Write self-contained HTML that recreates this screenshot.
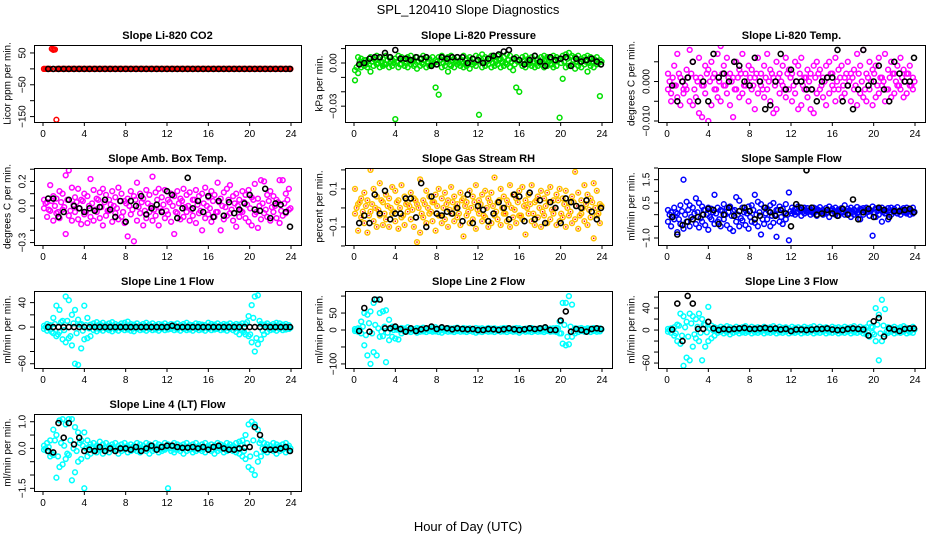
<!DOCTYPE html>
<html><head><meta charset="utf-8">
<style>
html,body{margin:0;padding:0;background:#fff;}
svg{display:block;font-family:"Liberation Sans",Arial,sans-serif;}
</style></head>
<body>
<svg id="chart" width="936" height="540" viewBox="0 0 936 540" xmlns="http://www.w3.org/2000/svg">
<rect x="0" y="0" width="936" height="540" fill="#fff"/>
<text x="468" y="14" text-anchor="middle" font-size="13">SPL_120410  Slope Diagnostics</text>
<text x="468" y="531" text-anchor="middle" font-size="13">Hour of Day (UTC)</text>
</svg>
<script>
const cloudHours=[0.1,0.4,0.7,1.0,1.3,1.6,1.9,2.2,2.5,2.8,3.1,3.4,3.7,4.0,4.3,4.6,4.9,5.2,5.5,5.8,6.1,6.4,6.7,7.0,7.3,7.6,7.9,8.2,8.5,8.8,9.1,9.4,9.7,10.0,10.3,10.6,10.9,11.2,11.5,11.8,12.1,12.4,12.7,13.0,13.3,13.6,13.9,14.2,14.5,14.8,15.1,15.4,15.7,16.0,16.3,16.6,16.9,17.2,17.5,17.8,18.1,18.4,18.7,19.0,19.3,19.6,19.9,20.2,20.5,20.8,21.1,21.4,21.7,22.0,22.3,22.6,22.9,23.2,23.5,23.8];
const cloudHoursC=[0.25,0.55,0.85,1.15,1.45,1.75,2.05,2.35,2.65,2.95,3.25,3.55,3.85,4.15,4.45,4.75,5.05,5.35,5.65,5.95,6.25,6.55,6.85,7.15,7.45,7.75,8.05,8.35,8.65,8.95,9.25,9.55,9.85,10.15,10.45,10.75,11.05,11.35,11.65,11.95,12.25,12.55,12.85,13.15,13.45,13.75,14.05,14.35,14.65,14.95,15.25,15.55,15.85,16.15,16.45,16.75,17.05,17.35,17.65,17.95,18.25,18.55,18.85,19.15,19.45,19.75,20.05,20.35,20.65,20.95,21.25,21.55,21.85,22.15,22.45,22.75,23.05,23.35,23.65,23.95];
const meanHours=[0.5,1.0,1.5,2.0,2.5,3.0,3.5,4.0,4.5,5.0,5.5,6.0,6.5,7.0,7.5,8.0,8.5,9.0,9.5,10.0,10.5,11.0,11.5,12.0,12.5,13.0,13.5,14.0,14.5,15.0,15.5,16.0,16.5,17.0,17.5,18.0,18.5,19.0,19.5,20.0,20.5,21.0,21.5,22.0,22.5,23.0,23.5,23.9];
const xTicks=[0,4,8,12,16,20,24];

const co2A=[0,0,0,62,0,0,0,0,0,0, 0,0,0,0,0,0,0,0,0,0, 0,0,0,0,0,0,0,0,0,0, 0,0,0,0,0,0,0,0,0,0, 0,0,0,0,0,0,0,0,0,0, 0,0,0,0,0,0,0,0,0,0, 0,0,0,0,0,0,0,0,0,0, 0,0,0,0,0,0,0,0,0,0];
const co2B=[0,0,0,60,-160,0,0,0,0,0, 0,0,0,0,0,0,0,0,0,0, 0,0,0,0,0,0,0,0,0,0, 0,0,0,0,0,0,0,0,0,0, 0,0,0,0,0,0,0,0,0,0, 0,0,0,0,0,0,0,0,0,0, 0,0,0,0,0,0,0,0,0,0, 0,0,0,0,0,0,0,0,0,0];
const co2C=[0,0,63,61,0,0,0,0,0,0, 0,0,0,0,0,0,0,0,0,0, 0,0,0,0,0,0,0,0,0,0, 0,0,0,0,0,0,0,0,0,0, 0,0,0,0,0,0,0,0,0,0, 0,0,0,0,0,0,0,0,0,0, 0,0,0,0,0,0,0,0,0,0, 0,0,0,0,0,0,0,0,0,0];
const co2Mean=[0,0,0,0,0,0,0,0,0,0,0,0,0,0,0,0,0,0,0,0,0,0,0,0,0,0,0,0,0,0,0,0,0,0,0,0,0,0,0,0,0,0,0,0,0,0,0,0];

const presA=[-0.005,0.004,0.003,0.002,0.001,0.004,0.003,0.005,0.004,0.003,0.005,0.004,0.002,0.003,0.005,0.004,0.003,0.004,0.005,0.002,0.004,0.003,0.005,0.004,0.003,0.004,0.002,0.004,0.005,0.003,0.004,0.005,0.003,0.004,0.002,0.005,0.003,0.004,0.003,0.005,0.004,0.006,0.004,0.003,0.005,0.004,0.005,0.003,0.004,0.006,0.005,0.003,0.004,0.002,0.004,0.005,0.003,0.004,0.005,0.003,0.004,0.005,0.004,0.003,0.005,0.004,0.003,0.005,0.006,0.007,0.005,0.004,0.005,0.003,0.004,0.005,0.004,0.003,0.004,0.002];
const presB=[-0.012,-0.007,-0.003,-0.002,-0.003,-0.006,-0.002,-0.001,-0.003,-0.002,-0.001,-0.003,-0.002,-0.039,-0.003,-0.001,-0.002,-0.003,-0.001,-0.002,-0.004,-0.002,-0.001,-0.003,-0.002,-0.001,-0.017,-0.022,-0.003,-0.002,-0.006,-0.002,-0.003,-0.001,-0.002,-0.003,-0.002,-0.004,-0.001,-0.002,-0.036,-0.003,-0.002,-0.001,-0.003,-0.002,-0.001,-0.003,-0.002,-0.001,-0.003,-0.005,-0.017,-0.020,-0.002,-0.003,-0.001,-0.002,-0.003,-0.002,-0.001,-0.003,-0.002,-0.001,-0.003,-0.002,-0.038,-0.011,-0.003,-0.002,-0.001,-0.004,-0.002,-0.003,-0.001,-0.006,-0.002,-0.003,-0.001,-0.023];
const presC=[-0.003,0.001,0.000,0.002,-0.001,0.001,0.002,0.000,0.001,-0.001,0.002,0.001,0.000,0.001,-0.001,0.002,0.000,0.001,0.002,-0.001,0.001,0.000,0.002,0.001,-0.001,0.000,0.001,0.002,0.000,0.001,-0.001,0.002,0.001,0.000,0.001,0.002,-0.001,0.001,0.000,0.002,0.001,0.003,0.001,0.002,0.000,0.001,0.002,0.001,0.000,0.002,0.001,-0.001,0.001,0.000,0.002,0.001,0.000,0.001,0.002,0.000,0.001,0.002,0.001,-0.001,0.001,0.002,0.000,0.001,0.003,0.004,0.002,0.001,0.000,0.002,0.001,0.000,0.001,0.002,0.000,0.001];
const presMean=[-0.001,0.000,0.003,0.004,0.004,0.007,0.004,0.009,0.003,0.003,0.002,0.004,0.003,0.004,-0.002,-0.001,0.004,0.003,0.004,0.004,0.004,0.000,0.003,0.002,0.000,0.003,0.005,0.006,0.008,0.009,0.003,0.002,-0.001,0.002,0.005,0.001,-0.002,0.004,0.002,0.003,0.004,-0.002,0.003,0.001,0.002,0.003,0.001,-0.001];

const tempA=[0.002,-0.003,0.004,0.007,0.001,-0.002,0.003,0.008,0.005,0.001,0.006,-0.001,0.004,0.003,0.005,0.002,0.007,0.009,0.004,0.006,0.002,0.001,0.005,0.003,0.007,0.002,0.004,0.003,0.001,0.006,0.002,0.004,0.007,0.003,0.001,0.005,0.002,0.004,0.006,0.003,0.002,0.005,0.004,0.006,0.001,0.003,0.002,0.004,0.005,0.003,0.001,0.004,0.005,0.002,0.006,0.003,0.004,0.001,0.005,0.002,0.003,0.007,0.004,0.008,0.002,0.005,0.003,0.004,0.006,0.001,0.007,0.003,0.005,0.002,0.004,0.006,0.003,0.002,0.004,0.001];
const tempB=[-0.002,-0.005,-0.001,-0.004,-0.006,-0.003,-0.002,-0.005,-0.006,-0.004,-0.008,-0.009,-0.003,-0.010,-0.006,-0.002,-0.004,-0.005,-0.001,-0.003,-0.006,-0.009,-0.002,-0.004,-0.003,-0.001,-0.005,-0.002,-0.007,-0.003,-0.001,-0.004,-0.002,-0.005,-0.008,-0.007,-0.003,-0.001,-0.004,-0.002,-0.005,-0.003,-0.007,-0.006,-0.002,-0.004,-0.007,-0.008,-0.003,-0.002,-0.004,-0.006,-0.003,-0.001,-0.005,-0.002,-0.004,-0.003,-0.001,-0.005,-0.002,-0.006,-0.003,-0.004,-0.005,-0.002,-0.006,-0.004,-0.003,-0.001,-0.005,-0.002,-0.004,-0.003,-0.001,-0.002,-0.004,-0.003,-0.001,-0.002];
const tempC=[0.000,0.001,-0.001,0.002,0.000,-0.001,0.001,0.002,-0.002,0.000,0.001,-0.001,0.002,0.000,0.001,-0.002,0.000,0.002,-0.001,0.001,0.000,-0.002,0.001,0.002,-0.001,0.000,0.001,-0.001,0.002,0.000,-0.002,0.001,0.000,0.002,-0.001,0.001,0.000,-0.002,0.002,0.001,-0.001,0.000,0.002,-0.001,0.001,0.000,-0.002,0.001,0.002,-0.001,0.000,0.001,0.002,-0.002,0.000,0.001,-0.001,0.002,0.000,0.001,-0.001,0.002,0.000,-0.002,0.001,0.000,0.002,-0.001,0.001,0.000,-0.002,0.001,0.002,0.000,-0.001,0.001,0.000,0.002,-0.001,0.000];
const tempMean=[-0.001,-0.005,0.000,0.001,0.005,-0.005,0.000,-0.005,0.007,0.001,0.002,0.000,0.005,0.004,0.000,-0.001,0.006,0.000,-0.007,-0.006,0.000,0.007,-0.002,0.003,0.000,0.000,-0.002,-0.002,-0.005,0.000,0.001,0.001,0.008,-0.005,-0.001,-0.007,-0.002,0.008,-0.001,0.000,0.004,-0.002,-0.005,0.005,0.002,0.000,0.000,0.006];

const ambA=[0.05,0.03,0.17,0.08,0.06,0.12,0.1,0.25,0.29,0.15,0.07,0.14,0.05,0.1,0.08,0.22,0.13,0.06,0.11,0.14,0.09,0.05,0.12,0.07,0.15,0.1,0.04,0.06,0.12,0.08,0.19,0.1,0.06,0.13,0.09,0.24,0.11,0.14,0.07,0.13,0.05,0.1,0.08,0.12,0.06,0.14,0.09,0.11,0.05,0.13,0.08,0.1,0.15,0.07,0.12,0.09,0.19,0.06,0.11,0.14,0.17,0.08,0.1,0.05,0.12,0.09,0.13,0.07,0.18,0.06,0.21,0.2,0.09,0.12,0.08,0.05,0.21,0.21,0.1,0.14];
const ambB=[-0.02,-0.09,-0.04,-0.12,-0.06,-0.1,-0.03,-0.23,-0.08,-0.12,-0.05,-0.11,-0.15,-0.07,-0.14,-0.09,-0.12,-0.05,-0.1,-0.16,-0.08,-0.04,-0.13,-0.06,-0.11,-0.09,-0.14,-0.25,-0.07,-0.29,-0.12,-0.06,-0.16,-0.1,-0.05,-0.12,-0.08,-0.16,-0.04,-0.1,-0.07,-0.13,-0.23,-0.06,-0.11,-0.09,-0.05,-0.12,-0.08,-0.14,-0.06,-0.2,-0.1,-0.07,-0.13,-0.09,-0.05,-0.2,-0.11,-0.08,-0.06,-0.12,-0.17,-0.09,-0.05,-0.1,-0.13,-0.16,-0.07,-0.18,-0.11,-0.06,-0.09,-0.12,-0.05,-0.1,-0.14,-0.08,-0.06,-0.03];
const ambC=[0.02,-0.03,0.04,0.0,-0.05,0.03,-0.01,0.05,-0.04,0.01,0.03,-0.02,0.04,-0.05,0.0,0.02,-0.03,0.05,-0.01,0.03,-0.04,0.01,0.0,-0.02,0.04,-0.05,0.02,0.0,-0.03,0.05,-0.01,0.03,-0.04,0.02,0.0,-0.03,0.05,-0.02,0.01,-0.04,0.03,0.0,-0.05,0.02,0.04,-0.01,0.0,-0.03,0.05,0.01,-0.04,0.02,0.0,-0.02,0.04,-0.05,0.03,0.0,-0.01,0.05,-0.03,0.02,0.0,-0.04,0.03,0.01,-0.02,0.05,-0.05,0.0,0.02,-0.03,0.04,-0.01,0.0,0.03,-0.04,0.02,0.05,-0.02];
const ambMean=[0.06,0.06,-0.09,-0.05,0.05,0.0,-0.02,-0.05,-0.02,-0.04,-0.01,0.05,-0.03,-0.09,0.04,-0.13,0.04,0.0,0.08,-0.07,-0.02,0.01,-0.05,0.12,0.09,-0.1,-0.02,0.23,-0.02,0.04,-0.05,0.08,-0.09,0.04,-0.08,0.03,-0.06,-0.03,0.02,0.09,-0.03,-0.04,0.14,-0.1,0.02,0.01,-0.05,-0.17];

const rhA=[0.1,0.02,0.05,0.08,0.04,0.2,0.1,0.06,0.13,0.03,0.07,0.05,0.11,0.09,0.04,0.12,0.06,0.03,0.08,0.05,0.02,0.15,0.04,0.09,0.06,0.03,0.07,0.1,0.05,0.08,0.04,0.11,0.06,0.02,0.08,0.05,0.03,0.09,0.06,0.12,0.04,0.07,0.09,0.05,0.08,0.16,0.03,0.1,0.06,0.04,0.12,0.07,0.05,0.09,0.11,0.04,0.07,0.12,0.03,0.06,0.09,0.05,0.08,0.11,0.04,0.07,0.1,0.05,0.09,0.03,0.06,0.19,0.08,0.04,0.12,0.07,0.05,0.13,0.09,0.02];
const rhB=[-0.03,-0.12,-0.05,-0.08,-0.13,-0.02,-0.07,-0.1,-0.04,-0.09,-0.06,-0.1,-0.03,-0.07,-0.11,-0.05,-0.09,-0.02,-0.06,-0.1,-0.18,-0.13,-0.05,-0.08,-0.03,-0.07,-0.12,-0.04,-0.08,-0.06,-0.1,-0.03,-0.07,-0.05,-0.09,-0.15,-0.04,-0.08,-0.06,-0.11,-0.03,-0.07,-0.05,-0.1,-0.08,-0.04,-0.06,-0.09,-0.03,-0.07,-0.1,-0.05,-0.08,-0.04,-0.06,-0.14,-0.03,-0.07,-0.09,-0.05,-0.1,-0.04,-0.08,-0.06,-0.03,-0.09,-0.07,-0.05,-0.1,-0.04,-0.08,-0.06,-0.11,-0.03,-0.07,-0.09,-0.05,-0.16,-0.04,-0.08];
const rhC=[0.0,0.03,-0.02,0.01,-0.04,0.02,0.0,-0.01,0.04,-0.03,0.01,0.0,-0.02,0.03,0.0,-0.04,0.02,0.01,-0.01,0.04,0.0,-0.03,0.02,0.0,-0.02,0.03,0.01,-0.04,0.0,0.02,-0.01,0.03,0.0,-0.03,0.04,0.01,-0.02,0.0,0.03,-0.01,0.02,-0.04,0.0,0.03,0.01,-0.02,0.04,0.0,-0.03,0.02,0.0,-0.01,0.03,-0.04,0.01,0.0,0.02,-0.03,0.04,0.0,-0.02,0.01,0.03,-0.01,0.0,0.04,-0.03,0.02,0.0,-0.02,0.03,0.01,-0.04,0.0,0.02,-0.01,0.03,0.0,-0.03,0.01];
const rhMean=[-0.08,-0.04,-0.08,0.07,-0.03,0.09,-0.06,-0.03,-0.03,0.05,0.05,-0.05,0.13,-0.1,0.06,-0.03,-0.04,-0.02,-0.03,0.0,-0.07,0.07,-0.08,0.01,-0.01,-0.07,-0.03,0.03,0.0,-0.06,0.07,0.06,-0.07,0.08,-0.06,0.04,-0.08,0.03,0.0,-0.08,0.05,0.03,0.01,0.0,0.04,-0.02,-0.06,0.0];

const flowA=[0.2,0.1,0.3,0.05,0.4,1.5,0.55,0.4,0.3,0.7,0.5,0.35,0.2,0.3,0.25,0.85,0.3,0.2,0.45,0.3,0.35,0.15,0.75,0.6,0.3,0.2,0.35,0.4,0.85,0.55,0.45,0.3,0.25,0.4,0.5,0.2,0.35,0.25,0.45,0.95,0.3,0.25,0.35,0.2,0.3,0.28,0.22,0.3,0.25,0.32,0.2,0.28,0.35,0.25,0.3,0.22,0.28,0.4,0.25,0.3,0.22,0.33,0.25,0.28,0.3,0.2,0.35,0.27,0.25,0.3,0.22,0.28,0.3,0.25,0.32,0.2,0.28,0.3,0.25,0.3];
const flowB=[-0.3,-0.5,-0.2,-0.75,-0.4,-0.6,-0.3,-0.5,-0.2,-0.4,-0.55,-0.3,-0.45,-0.65,-0.2,-0.4,-0.3,-0.5,-0.2,-0.45,-0.6,-0.7,-0.3,-0.5,-0.25,-0.45,-0.6,-0.3,-0.35,-0.5,-0.85,-0.4,-0.2,-0.5,-0.35,-0.95,-0.3,-0.4,-0.2,-1.1,0.05,0.0,0.1,-0.05,0.05,0.1,0.0,0.05,-0.05,0.1,0.0,0.05,-0.1,0.05,0.0,-0.05,0.1,0.0,0.05,-0.1,0.0,0.05,-0.2,0.0,0.1,-0.05,-0.9,-0.1,0.0,-0.3,0.05,-0.2,0.0,0.1,0.05,0.0,0.1,0.05,0.0,0.05];
const flowC=[0.0,-0.1,0.1,-0.2,0.15,0.0,0.2,-0.1,0.05,0.1,-0.15,0.2,0.0,-0.1,0.1,0.05,-0.2,0.15,0.0,0.1,-0.05,0.2,0.0,-0.15,0.1,0.05,-0.1,0.2,0.0,0.1,-0.2,0.05,0.15,-0.05,0.0,0.2,-0.1,0.1,0.0,0.15,0.15,0.1,0.2,0.12,0.15,0.18,0.1,0.15,0.2,0.12,0.15,0.1,0.18,0.15,0.12,0.2,0.1,0.15,0.18,0.12,0.15,0.1,0.2,0.15,0.12,0.18,0.1,0.15,0.2,0.12,0.15,0.1,0.18,0.15,0.12,0.2,0.1,0.15,0.18,0.12];
const flowMean=[-0.1,-0.85,-0.45,-0.3,-0.2,-0.1,0.0,0.25,0.2,-0.4,0.0,0.3,-0.05,0.15,0.3,0.15,-0.2,-0.05,0.3,0.1,-0.05,0.2,0.05,-0.5,0.45,0.3,1.9,0.3,0.0,0.05,0.2,0.05,-0.05,0.25,0.0,0.65,-0.2,0.1,0.25,-0.1,0.3,0.2,-0.1,0.15,0.15,0.2,0.25,0.1];

const l1A=[2,5,3,15,35,28,10,50,44,20,28,12,5,35,15,4,6,8,5,7,4,6,8,5,3,6,7,9,5,4,6,3,5,7,4,6,3,5,4,6,3,5,4,6,3,5,7,4,3,6,5,4,3,7,5,4,6,3,5,4,6,3,5,4,6,5,18,36,50,52,5,4,6,3,5,7,6,4,5,3];
const l1B=[-3,-6,-4,-10,-15,-8,-20,-25,-18,-30,-60,-62,-35,-20,-18,-15,-5,-7,-4,-6,-3,-5,-7,-4,-6,-3,-5,-4,-6,-7,-3,-5,-4,-6,-3,-5,-4,-6,-3,-5,-4,-3,-5,-4,-6,-3,-5,-4,-6,-3,-5,-4,-6,-3,-5,-4,-3,-5,-4,-6,-3,-5,-8,-12,-6,-12,-15,-25,-40,-28,-20,-12,-8,-5,-4,-6,-3,-5,-4,-3];
const l1C=[0,2,-8,5,-12,8,-5,10,-15,6,-10,4,-6,3,-2,1,0,-1,2,0,-2,1,0,-1,2,0,-1,1,0,-2,1,0,2,-1,0,1,-2,0,1,-1,0,2,-1,0,1,-2,0,1,0,-1,2,0,-1,1,0,-2,1,0,2,-1,0,1,-2,-5,-8,8,-12,15,-18,10,-6,3,0,-1,2,0,-1,1,0,-1];
const l1Mean=[0,0,0,0,0,0,0,0,0,0,0,0,0,0,0,0,0,0,0,0,0,0,0,0,2,0,0,0,0,0,0,0,0,0,0,0,0,0,0,0,0,0,0,0,0,0,0,0];

const l2A=[3,5,25,50,45,55,80,90,50,55,58,30,10,5,3,6,4,8,5,3,6,4,7,5,3,6,8,4,5,3,6,4,5,7,3,6,4,5,3,6,4,5,3,6,4,5,3,4,6,5,3,4,6,5,3,4,5,6,3,4,5,6,3,4,5,6,25,80,80,100,75,5,4,6,3,5,4,6,3,5];
const l2B=[-3,-5,-10,-45,-75,-100,-65,-75,-20,-18,-95,-30,-20,-25,-28,-10,-5,-4,-6,-3,-8,-5,-4,-6,-3,-5,-4,-6,-8,-3,-5,-4,-6,-3,-5,-4,-6,-3,-5,-8,-4,-6,-3,-5,-4,-6,-3,-5,-4,-6,-3,-5,-4,-8,-3,-5,-4,-6,-3,-5,-4,-6,-3,-5,-4,-6,-10,-40,-45,-42,-20,-10,-6,-3,-5,-4,-6,-3,-5,-4];
const l2C=[0,2,10,-15,20,-10,15,5,-5,10,-8,3,0,1,-1,2,0,-1,1,0,2,-1,0,1,-2,0,1,0,-1,2,0,1,-1,0,2,-1,0,1,0,-2,1,0,2,-1,0,1,-1,0,2,0,-1,1,0,-2,1,0,2,-1,0,1,0,-1,2,0,-3,5,-10,15,-20,10,-5,3,0,-1,2,0,1,-1,0,2];
const l2Mean=[-3,65,-5,90,90,5,5,10,3,-5,5,-3,2,5,10,3,8,5,2,5,3,2,3,0,0,3,2,0,2,5,2,0,2,5,3,5,8,0,0,28,55,-5,3,0,-5,3,5,3];

const l3A=[2,3,5,10,30,25,15,30,25,20,30,20,10,42,8,5,3,6,4,7,5,3,6,4,5,7,3,6,4,5,3,6,4,5,7,3,6,4,5,3,6,4,5,3,6,4,5,7,3,6,4,5,3,6,4,5,3,6,4,5,7,3,6,4,5,12,5,40,28,55,38,5,4,6,3,5,7,4,3,6];
const l3B=[-3,-5,-10,-20,-25,-65,-50,-55,-30,-15,-20,-55,-30,-20,-15,-10,-5,-3,-6,-4,-8,-5,-3,-6,-4,-5,-3,-6,-4,-5,-3,-6,-4,-5,-3,-6,-4,-5,-3,-6,-4,-5,-3,-6,-4,-5,-3,-6,-4,-5,-3,-6,-4,-5,-3,-6,-4,-5,-3,-6,-4,-5,-3,-6,-8,-12,-5,-20,-55,-20,-8,-5,-3,-6,-4,-5,-3,-6,-4,-5];
const l3C=[0,1,-6,8,-10,5,-12,12,-8,6,-5,10,-4,3,0,-1,2,0,-1,1,0,2,-1,0,1,-2,0,1,0,-1,2,0,1,-1,0,2,-1,0,1,0,-2,1,0,2,-1,0,1,-1,0,2,0,-1,1,0,-2,1,0,2,-1,0,1,0,-1,2,-4,6,-8,10,-6,8,-3,2,0,-1,1,0,2,-1,0,1];
const l3Mean=[1,48,-20,62,48,2,2,15,3,0,2,1,2,3,4,2,2,3,4,2,3,1,2,-2,1,1,0,1,2,2,3,1,0,0,2,3,2,1,-10,16,22,-12,3,1,-2,2,3,3];

const l4A=[0.1,0.2,0.3,0.7,0.5,1.05,1.1,0.9,1.1,1.1,0.8,0.6,0.3,0.6,0.3,0.15,0.2,0.1,0.25,0.15,0.2,0.1,0.15,0.2,0.1,0.15,0.2,0.1,0.15,0.1,0.2,0.15,0.1,0.2,0.15,0.1,0.2,0.15,0.1,0.2,0.15,0.1,0.2,0.15,0.1,0.15,0.2,0.1,0.15,0.2,0.1,0.15,0.2,0.1,0.15,0.1,0.2,0.15,0.1,0.2,0.15,0.1,0.2,0.25,0.3,0.5,0.9,1.0,0.9,0.7,0.3,0.2,0.15,0.1,0.2,0.15,0.1,0.15,0.2,0.1];
const l4B=[-0.05,-0.1,-0.3,-0.25,-1.1,-0.7,-0.6,-0.4,-0.25,-1.2,-0.9,-0.5,-0.4,-1.5,-0.3,-0.2,-0.1,-0.15,-0.05,-0.2,-0.1,-0.15,-0.05,-0.1,-0.2,-0.1,-0.05,-0.15,-0.1,-0.05,-0.1,-0.15,-0.05,-0.1,-0.2,-0.1,-0.05,-0.15,-0.1,-0.05,-1.5,-0.1,-0.15,-0.05,-0.1,-0.2,-0.1,-0.05,-0.15,-0.1,-0.05,-0.1,-0.15,-0.05,-0.1,-0.2,-0.1,-0.05,-0.15,-0.1,-0.05,-0.1,-0.15,-0.2,-0.3,-0.4,-0.7,-0.8,-1.0,-0.5,-0.3,-0.1,-0.15,-0.05,-0.1,-0.2,-0.1,-0.05,-0.15,-0.1];
const l4C=[0.0,0.05,-0.2,0.3,-0.3,0.2,0.1,-0.2,0.3,0.0,-0.1,0.2,0.1,0.0,0.05,0.0,-0.05,0.05,0.0,0.02,-0.03,0.05,0.0,-0.05,0.03,0.0,0.05,-0.03,0.0,0.05,0.02,-0.05,0.0,0.03,0.05,-0.02,0.0,0.05,-0.03,0.02,0.0,0.05,-0.05,0.03,0.0,0.02,0.05,-0.03,0.0,0.05,-0.02,0.0,0.03,0.05,-0.05,0.0,0.02,0.05,-0.03,0.0,0.05,-0.02,0.0,0.1,-0.1,0.2,-0.3,0.3,-0.2,0.2,0.0,0.05,-0.05,0.0,0.03,0.05,-0.02,0.0,0.05,0.0];
const l4Mean=[-0.1,-0.15,0.95,0.4,0.95,0.15,0.4,-0.1,-0.05,-0.1,0.05,-0.1,0.0,-0.1,0.0,0.0,-0.05,0.05,-0.1,0.0,0.1,-0.05,0.05,0.1,0.1,0.05,0.02,0.02,0.05,0.0,0.05,-0.05,0.05,0.1,0.0,-0.05,-0.05,0.0,0.02,0.05,0.8,0.5,-0.05,-0.05,-0.05,0.0,0.05,-0.1];

const co2Ticks=[50,0,-50,-100,-150], co2Labels=["50","","−50","","−150"];
const presTicks=[0.01,0,-0.01,-0.02,-0.03], presLabels=["","0.00","","","−0.03"];
const tempTicks=[0.005,0,-0.005,-0.01], tempLabels=["","0.000","","−0.010"];
const ambTicks=[0.3,0.2,0.1,0,-0.1,-0.2,-0.3], ambLabels=["","0.2","","0.0","","","−0.3"];
const rhTicks=[0.2,0.1,0,-0.1,-0.2], rhLabels=["","0.1","","−0.1",""];
const flowTicks=[2,1.5,1,0.5,0,-0.5,-1], flowLabels=["","1.5","","0.5","","","−1.0"];
const l1Ticks=[40,20,0,-20,-40,-60], l1Labels=["40","","0","","","−60"];
const l2Ticks=[100,50,0,-50,-100], l2Labels=["","50","0","","−100"];
const l3Ticks=[60,40,20,0,-20,-40,-60], l3Labels=["","40","","0","","","−60"];
const l4Ticks=[1,0.5,0,-0.5,-1,-1.5], l4Labels=["1.0","","0.0","","","−1.5"];

const NS="http://www.w3.org/2000/svg";
const svg=document.getElementById('chart');
function mk(tag,attrs,parent){const e=document.createElementNS(NS,tag);for(const k in attrs)e.setAttribute(k,attrs[k]);(parent||svg).appendChild(e);return e;}

const colLeft=[34,345,658], rowTop=[45,168,291,414], boxW=267, boxH=77;
const titleX=[8,320,632];

function panel(key,col,row,title,ytitle,yMin,yMax,ticks,labels,A,B,C,M,color,inner){
  const L=colLeft[col],T=rowTop[row],R=L+boxW,Bt=T+boxH;
  const g=mk('g',{});
  
  
  const xs=h=>L+9+h*(boxW-19)/24;
  const ys=v=>Bt-(v-yMin)/(yMax-yMin)*boxH;
  const t=mk('text',{x:(L+R)/2,y:T-6,'text-anchor':'middle','font-size':'11','font-weight':'bold'},g);
  t.textContent=title;
  
  
  const yt=mk('text',{x:titleX[col],y:(T+Bt)/2,'text-anchor':'middle','font-size':'10',transform:`rotate(-90 ${titleX[col]} ${(T+Bt)/2})`,'dominant-baseline':'central'},g);
  yt.textContent=ytitle;
  
  
  const clipId='clip-'+key;
  const cp=mk('clipPath',{id:clipId},g);mk('rect',{x:L,y:T,width:boxW,height:boxH},cp);
  const pts=mk('g',{'clip-path':`url(#${clipId})`},g);
  
  
  [[A,cloudHours],[B,cloudHours],[C,cloudHoursC]].forEach(([arr,hrs])=>{
    const n=Math.min(arr.length,hrs.length);
    for(let i=0;i<n;i++){
      const c=mk('circle',{cx:xs(hrs[i]).toFixed(1),cy:ys(arr[i]).toFixed(1),r:2.4,fill:'none',stroke:color,'stroke-width':1.5},pts);
      
      
      if(inner){const d=mk('rect',{x:(xs(hrs[i])-0.7).toFixed(1),y:(ys(arr[i])-0.7).toFixed(1),width:1.4,height:1.4,fill:inner},pts);
        
        }
    }
  });
  const nm=Math.min(M.length,meanHours.length);
  for(let i=0;i<nm;i++){
    const c=mk('circle',{cx:xs(meanHours[i]).toFixed(1),cy:ys(M[i]).toFixed(1),r:2.5,fill:'none',stroke:'#000','stroke-width':1.6},pts);
    
    
  }
  const bx=mk('rect',{x:L+0.5,y:T+0.5,width:boxW,height:boxH,fill:'none',stroke:'#000','stroke-width':1},g);
  
  
  xTicks.forEach(h=>{
    const x=xs(h);
    mk('line',{x1:x,y1:Bt,x2:x,y2:Bt+4,stroke:'#000'},g);
    const lt=mk('text',{x:x,y:Bt+15,'text-anchor':'middle','font-size':'10'},g);
    lt.textContent=h;
    
    
  });
  ticks.forEach((v,i)=>{
    const y=ys(v);
    mk('line',{x1:L-4,y1:y,x2:L,y2:y,stroke:'#000'},g);
    if(labels[i]){
      const lx=L-11;
      const lt=mk('text',{x:lx,y:y,'text-anchor':'middle','font-size':'10','dominant-baseline':'central',transform:`rotate(-90 ${lx} ${y})`},g);
      lt.textContent=labels[i];
      
      
    }
  });
}

panel('co2',0,0,'Slope Li-820 CO2','Licor ppm per min.',-167,75,co2Ticks,co2Labels,co2A,co2B,co2C,co2Mean,'#ff0000',null);
panel('pressure',1,0,'Slope Li-820 Pressure','kPa per min.',-0.041,0.0125,presTicks,presLabels,presA,presB,presC,presMean,'#00e000',null);
panel('temp',2,0,'Slope Li-820 Temp.','degrees C per min.',-0.01025,0.00925,tempTicks,tempLabels,tempA,tempB,tempC,tempMean,'#ff00ff',null);
panel('ambtemp',0,1,'Slope Amb. Box Temp.','degrees C per min.',-0.32,0.31,ambTicks,ambLabels,ambA,ambB,ambC,ambMean,'#ff00ff',null);
panel('rh',1,1,'Slope Gas Stream RH','percent per min.',-0.195,0.21,rhTicks,rhLabels,rhA,rhB,rhC,rhMean,'#ffc000','#ff0000');
panel('sampleflow',2,1,'Slope Sample Flow','ml/min per min.',-1.3,2.0,flowTicks,flowLabels,flowA,flowB,flowC,flowMean,'#0000ff',null);
panel('line1',0,2,'Slope Line 1 Flow','ml/min per min.',-67,59,l1Ticks,l1Labels,l1A,l1B,l1C,l1Mean,'#00ffff',null);
panel('line2',1,2,'Slope Line 2 Flow','ml/min per min.',-112,115,l2Ticks,l2Labels,l2A,l2B,l2C,l2Mean,'#00ffff',null);
panel('line3',2,2,'Slope Line 3 Flow','ml/min per min.',-69,71,l3Ticks,l3Labels,l3A,l3B,l3C,l3Mean,'#00ffff',null);
panel('line4',0,3,'Slope Line 4 (LT) Flow','ml/min per min.',-1.6,1.29,l4Ticks,l4Labels,l4A,l4B,l4C,l4Mean,'#00ffff',null);
</script>
</body></html>
